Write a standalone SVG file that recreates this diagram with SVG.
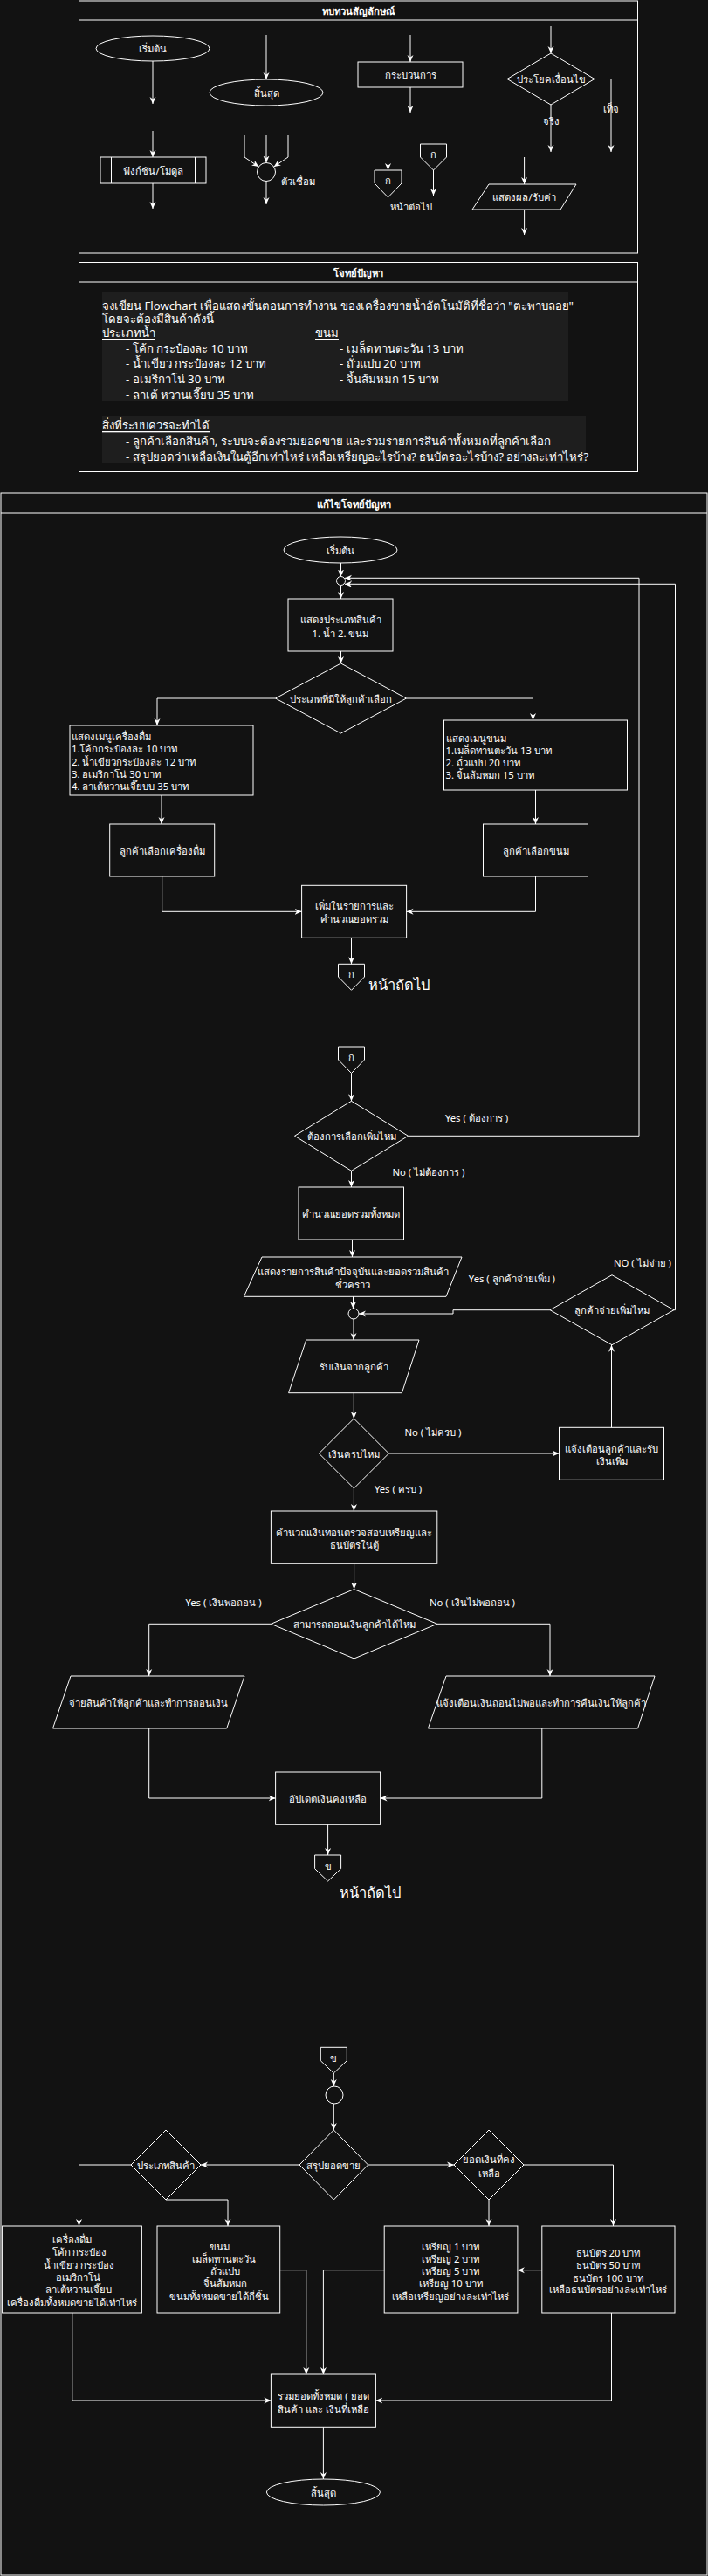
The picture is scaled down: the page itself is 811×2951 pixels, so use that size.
<svg xmlns="http://www.w3.org/2000/svg" width="811" height="2951" viewBox="0 0 811 2951">
<defs>
<marker id="a" viewBox="0 0 8 8" refX="8" refY="4" markerWidth="8" markerHeight="8" markerUnits="userSpaceOnUse" orient="auto">
<path d="M0,0.5 L8,4 L0,7.5 L2.5,4 Z" fill="#ffffff"/>
</marker>
<style>
.n{fill:#121212;stroke:#ffffff;stroke-width:1}
.e{fill:none;stroke:#ffffff;stroke-width:1;marker-end:url(#a)}
.l{fill:none;stroke:#ffffff;stroke-width:1}
.lb{fill:#1e1e1e}
text{font-family:"Noto Sans","DejaVu Sans",sans-serif;fill:#ffffff;font-size:11.3px;text-anchor:middle;dominant-baseline:central}
.b{font-weight:bold}
.s{text-anchor:start}
.p{font-size:13.2px}
.big{font-size:16.5px}
.u{text-decoration:underline}
</style>
</defs>
<rect x="0" y="0" width="811" height="2951" fill="#121212"/>

<!-- ===== Legend ===== -->
<g id="legend">
<rect class="n" x="90.5" y="1" width="640" height="289"/>
<line class="l" x1="90.5" y1="23" x2="730.5" y2="23"/>
<text class="b" x="410" y="12.5">ทบทวนสัญลักษณ์</text>
</g>
<g id="lg-start"><ellipse class="n" cx="175" cy="55.5" rx="65" ry="14.5"/><text x="175" y="55.5">เริ่มต้น</text></g>
<g id="lg-end"><ellipse class="n" cx="305" cy="106" rx="65" ry="15"/><text x="305" y="106">สิ้นสุด</text></g>
<g id="lg-process"><rect class="n" x="410" y="71" width="120" height="29"/><text x="470" y="85.5">กระบวนการ</text></g>
<g id="lg-decision"><polygon class="n" points="631,61 681,90.5 631,120 581,90.5"/><text x="631" y="90.5">ประโยคเงื่อนไข</text></g>
<g id="lg-function"><rect class="n" x="115" y="180" width="121" height="30"/><line class="l" x1="127.5" y1="180" x2="127.5" y2="210"/><line class="l" x1="223.5" y1="180" x2="223.5" y2="210"/><text x="175.5" y="195">ฟังก์ชัน/โมดูล</text></g>
<g id="lg-junction"><circle class="n" cx="305" cy="197" r="10.5"/><text x="341" y="207">ตัวเชื่อม</text></g>
<g id="lg-offpage1"><polygon class="n" points="429,195 460,195 460,210 444.5,226 429,210"/><text x="444.5" y="206">ก</text></g>
<g id="lg-offpage2"><polygon class="n" points="481.5,165 511.5,165 511.5,180 496.5,195 481.5,180"/><text x="496.5" y="176">ก</text></g>
<g id="lg-offpage-label"><text x="470.8" y="236.5">หน้าต่อไป</text></g>
<g id="lg-io"><polygon class="n" points="560,211 660,211 642,240 541,240"/><text x="600.6" y="225.5">แสดงผล/รับค่า</text></g>
<g id="lg-connectors">
<path class="e" d="M175,70 V119"/>
<path class="e" d="M305,40 V91"/>
<path class="e" d="M470,40 V71"/>
<path class="e" d="M470,100 V129"/>
<path class="e" d="M631,30 V61"/>
<path class="e" d="M631,120 V174"/>
<path class="e" d="M681,90.5 H700 V174"/>
<path class="e" d="M175,150 V180"/>
<path class="e" d="M175,210 V239"/>
<path class="e" d="M305,155 V186.5"/>
<path class="e" d="M280,155 V180 L296.3,191.1"/>
<path class="e" d="M330,155 V180 L313.7,191.1"/>
<path class="e" d="M305,207.5 V234"/>
<path class="e" d="M444.5,165 V195"/>
<path class="e" d="M496.5,195 V224"/>
<path class="e" d="M600.6,180 V211"/>
<path class="e" d="M600.6,240 V269"/>
</g>
<g id="lg-labels">
<text x="631" y="138">จริง</text>
<text x="700" y="124">เท็จ</text>
</g>

<!-- ===== Problem ===== -->
<g id="problem">
<rect class="n" x="90.5" y="300.5" width="640" height="240"/>
<line class="l" x1="90.5" y1="323" x2="730.5" y2="323"/>
<text class="b" x="410" y="312">โจทย์ปัญหา</text>
<rect class="lb" x="117" y="334" width="534" height="125"/>
<rect class="lb" x="117" y="477" width="554" height="53"/>
<text class="p s" x="117" y="350">จงเขียน Flowchart เพื่อแสดงขั้นตอนการทำงาน ของเครื่องขายน้ำอัตโนมัติที่ชื่อว่า "ตะพาบลอย"</text>
<text class="p s" x="117" y="365">โดยจะต้องมีสินค้าดังนี้</text>
<text class="p s u" x="117" y="381">ประเภทน้ำ</text>
<text class="p s u" x="361" y="381">ขนม</text>
<text class="p s" x="144" y="398.5">- โค้ก กระป๋องละ 10 บาท</text>
<text class="p s" x="144" y="416">- น้ำเขียว กระป๋องละ 12 บาท</text>
<text class="p s" x="144" y="434">- อเมริกาโน่ 30 บาท</text>
<text class="p s" x="144" y="451.5">- ลาเต้ หวานเจี๊ยบ 35 บาท</text>
<text class="p s" x="389" y="398.5">- เมล็ดทานตะวัน 13 บาท</text>
<text class="p s" x="389" y="416">- ถั่วแปบ 20 บาท</text>
<text class="p s" x="389" y="434">- จิ้นส้มหมก 15 บาท</text>
<text class="p s u" x="117" y="487">สิ่งที่ระบบควรจะทำได้</text>
<text class="p s" x="144" y="505">- ลูกค้าเลือกสินค้า, ระบบจะต้องรวมยอดขาย และรวมรายการสินค้าทั้งหมดที่ลูกค้าเลือก</text>
<text class="p s" x="144" y="523">- สรุปยอดว่าเหลือเงินในตู้อีกเท่าไหร่ เหลือเหรียญอะไรบ้าง? ธนบัตรอะไรบ้าง? อย่างละเท่าไหร่?</text>
</g>

<!-- ===== Solution ===== -->
<g id="solution">
<rect class="n" x="1" y="565" width="809" height="2385"/>
<line class="l" x1="1" y1="588" x2="810" y2="588"/>
<text class="b" x="405.5" y="577">แก้ไขโจทย์ปัญหา</text>
</g>
<g id="start"><ellipse class="n" cx="390" cy="630" rx="65" ry="15"/><text x="390" y="630">เริ่มต้น</text></g>
<g id="j1"><circle class="n" cx="390.5" cy="665.5" r="5"/></g>
<g id="show-type"><rect class="n" x="330" y="686" width="120" height="60"/><text x="390" y="709">แสดงประเภทสินค้า</text><text x="390" y="725">1. น้ำ  2. ขนม</text></g>
<g id="d-type"><polygon class="n" points="390.5,760 465.5,800 390.5,840 315.5,800"/><text x="390.5" y="800">ประเภทที่มีให้ลูกค้าเลือก</text></g>
<g id="menu-drink"><rect class="n" x="80" y="831" width="210" height="80"/>
<text class="s" x="82" y="843">แสดงเมนูเครื่องดื่ม</text>
<text class="s" x="82" y="857.5">1.โค้กกระป๋องละ 10 บาท</text>
<text class="s" x="82" y="872">2. น้ำเขียวกระป๋องละ 12 บาท</text>
<text class="s" x="82" y="886.5">3. อเมริกาโน่ 30 บาท</text>
<text class="s" x="82" y="900.5">4. ลาเต้หวานเจี๊ยบบ 35 บาท</text></g>
<g id="menu-snack"><rect class="n" x="508.5" y="825" width="210" height="80"/>
<text class="s" x="510.5" y="845">แสดงเมนูขนม</text>
<text class="s" x="510.5" y="859">1.เมล็ดทานตะวัน 13 บาท</text>
<text class="s" x="510.5" y="873.5">2. ถั่วแปบ 20 บาท</text>
<text class="s" x="510.5" y="887.5">3. จิ้นส้มหมก 15 บาท</text></g>
<g id="pick-drink"><rect class="n" x="125.7" y="944" width="120" height="60"/><text x="185.7" y="974">ลูกค้าเลือกเครื่องดื่ม</text></g>
<g id="pick-snack"><rect class="n" x="553.5" y="944" width="120" height="60"/><text x="613.5" y="974">ลูกค้าเลือกขนม</text></g>
<g id="add-list"><rect class="n" x="345.6" y="1014.3" width="120" height="60"/><text x="405.6" y="1037">เพิ่มในรายการและ</text><text x="405.6" y="1052">คำนวณยอดรวม</text></g>
<g id="off-k1"><polygon class="n" points="387.5,1104.3 417.5,1104.3 417.5,1119 402.5,1134.3 387.5,1119"/><text x="402.5" y="1115">ก</text><text class="big s" x="422" y="1127">หน้าถัดไป</text></g>
<g id="off-k2"><polygon class="n" points="387.5,1199 417.5,1199 417.5,1214 402.5,1229.5 387.5,1214"/><text x="402.5" y="1210.5">ก</text></g>
<g id="d-more"><polygon class="n" points="402.5,1261.3 467.5,1301.3 402.5,1341.3 337.5,1301.3"/><text x="402.5" y="1301.3">ต้องการเลือกเพิ่มไหม</text></g>
<g id="calc-total"><rect class="n" x="342" y="1360" width="120.5" height="60"/><text x="402.3" y="1390">คำนวณยอดรวมทั้งหมด</text></g>
<g id="show-list"><polygon class="n" points="300,1440 529,1440 511,1485.3 279.4,1485.3"/><text x="404.3" y="1456.5">แสดงรายการสินค้าปัจจุบันและยอดรวมสินค้า</text><text x="404.3" y="1471.5">ชั่วคราว</text></g>
<g id="j2"><circle class="n" cx="405" cy="1505" r="6"/></g>
<g id="d-paymore"><polygon class="n" points="701,1460.7 772,1500.7 701,1540.7 630,1500.7"/><text x="701" y="1500.7">ลูกค้าจ่ายเพิ่มไหม</text></g>
<g id="receive"><polygon class="n" points="350.7,1535 480,1535 460.4,1595.7 330.6,1595.7"/><text x="405.3" y="1565">รับเงินจากลูกค้า</text></g>
<g id="d-enough"><polygon class="n" points="405.4,1625 445.4,1665 405.4,1705 365.4,1665"/><text x="405.4" y="1665">เงินครบไหม</text></g>
<g id="notify-more"><rect class="n" x="640.5" y="1635.3" width="120" height="60"/><text x="700.5" y="1659">แจ้งเตือนลูกค้าและรับ</text><text x="700.5" y="1673.5">เงินเพิ่ม</text></g>
<g id="calc-change"><rect class="n" x="310.4" y="1731" width="190.4" height="60.3"/><text x="405.6" y="1755">คำนวณเงินทอนตรวจสอบเหรียญและ</text><text x="405.6" y="1769.5">ธนบัตรในตู้</text></g>
<g id="d-withdraw"><polygon class="n" points="405.6,1820.6 500.8,1860.3 405.6,1900 310.4,1860.3"/><text x="405.6" y="1860.3">สามารถถอนเงินลูกค้าได้ไหม</text></g>
<g id="give-goods"><polygon class="n" points="81,1920 280,1920 259.7,1980 60.5,1980"/><text x="170.3" y="1950">จ่ายสินค้าให้ลูกค้าและทำการถอนเงิน</text></g>
<g id="refund"><polygon class="n" points="511,1920 750,1920 730.5,1980 490.4,1980"/><text x="620.2" y="1950">แจ้งเตือนเงินถอนไม่พอและทำการคืนเงินให้ลูกค้า</text></g>
<g id="update-balance"><rect class="n" x="315.6" y="2030" width="120" height="60.3"/><text x="375.6" y="2060">อัปเดตเงินคงเหลือ</text></g>
<g id="off-kh1"><polygon class="n" points="360.6,2125 390.6,2125 390.6,2140.7 375.6,2155 360.6,2140.7"/><text x="375.6" y="2137">ข</text><text class="big s" x="389" y="2167">หน้าถัดไป</text></g>
<g id="off-kh2"><polygon class="n" points="367.3,2345.3 397.3,2345.3 397.3,2360.7 382.3,2375 367.3,2360.7"/><text x="382.3" y="2357">ข</text></g>
<g id="j3"><circle class="n" cx="383" cy="2400" r="10"/></g>
<g id="d-summary"><polygon class="n" points="382.3,2440 421.6,2480 382.3,2520 343,2480"/><text x="382.3" y="2480">สรุปยอดขาย</text></g>
<g id="d-product"><polygon class="n" points="190,2440 230,2480 190,2520 150,2480"/><text x="190" y="2480">ประเภทสินค้า</text></g>
<g id="d-remain"><polygon class="n" points="560,2440 600,2480 560,2520 520,2480"/><text x="560" y="2473.5">ยอดเงินที่คง</text><text x="560" y="2489">เหลือ</text></g>
<g id="sum-drink"><rect class="n" x="2.6" y="2550" width="159.8" height="100"/>
<text x="82.5" y="2565">เครื่องดื่ม</text>
<text x="91" y="2579.5">โค้ก กระป๋อง</text>
<text x="90.5" y="2594">น้ำเขียว กระป๋อง</text>
<text x="89" y="2608.5">อเมริกาโน่</text>
<text x="90" y="2622.5">ลาเต้หวานเจี๊ยบ</text>
<text x="82.5" y="2637">เครื่องดื่มทั้งหมดขายได้เท่าไหร่</text></g>
<g id="sum-snack"><rect class="n" x="180" y="2550" width="140.7" height="100"/>
<text x="251" y="2573.5">ขนม</text>
<text x="256.5" y="2587">เมล็ดทานตะวัน</text>
<text x="258" y="2601">ถั่วแปบ</text>
<text x="257.5" y="2615">จิ้นส้มหมก</text>
<text x="250.5" y="2630">ขนมทั้งหมดขายได้กี่ชิ้น</text></g>
<g id="sum-coins"><rect class="n" x="440.2" y="2550" width="152.7" height="100"/>
<text x="516.3" y="2573.5">เหรียญ 1 บาท</text>
<text x="516.3" y="2587.5">เหรียญ 2 บาท</text>
<text x="516.3" y="2601.5">เหรียญ 5 บาท</text>
<text x="516.3" y="2615.5">เหรียญ 10 บาท</text>
<text x="516.3" y="2630">เหลือเหรียญอย่างละเท่าไหร่</text></g>
<g id="sum-notes"><rect class="n" x="620.8" y="2550" width="152.2" height="100"/>
<text x="696.5" y="2580">ธนบัตร 20 บาท</text>
<text x="696.5" y="2594">ธนบัตร 50 บาท</text>
<text x="696.5" y="2609">ธนบัตร 100 บาท</text>
<text x="696.5" y="2622.5">เหลือธนบัตรอย่างละเท่าไหร่</text></g>
<g id="grand-total"><rect class="n" x="310.4" y="2720" width="120" height="60.3"/><text x="370.4" y="2744.3">รวมยอดทั้งหมด ( ยอด</text><text x="370.4" y="2759.3">สินค้า และ เงินที่เหลือ</text></g>
<g id="end"><ellipse class="n" cx="370.4" cy="2855" rx="65" ry="15"/><text x="370.4" y="2855">สิ้นสุด</text></g>

<g id="connectors">
<path class="e" d="M390.5,645 V660.5"/>
<path class="e" d="M390.5,670.5 V686"/>
<path class="e" d="M390.5,746 V760"/>
<path class="e" d="M315.5,800 H180 V831"/>
<path class="e" d="M465.5,800 H610.5 V825"/>
<path class="e" d="M185,911 V944"/>
<path class="e" d="M613.5,905 V944"/>
<path class="e" d="M185.7,1004 V1044.3 H345.6"/>
<path class="e" d="M613.5,1004 V1044.3 H465.6"/>
<path class="e" d="M402.5,1074.3 V1104.3"/>
<path class="e" d="M402.5,1229.5 V1261.3"/>
<path class="e" d="M467.5,1301.3 H732 V662.3 H395"/>
<path class="e" d="M402.5,1341.3 V1360"/>
<path class="e" d="M403.5,1420 V1440"/>
<path class="e" d="M404.5,1485.3 V1499"/>
<path class="e" d="M630,1500.7 H519 V1505 H411"/>
<path class="e" d="M772,1500.7 H773.5 V669.3 H395"/>
<path class="e" d="M405,1511 V1535"/>
<path class="e" d="M405.3,1595.7 V1625"/>
<path class="e" d="M445.4,1665 H640.5"/>
<path class="e" d="M700.5,1635.3 V1540.7"/>
<path class="e" d="M405.4,1705 V1731"/>
<path class="e" d="M405.6,1791.3 V1820.6"/>
<path class="e" d="M310.4,1860.3 H170.7 V1920"/>
<path class="e" d="M500.8,1860.3 H630 V1920"/>
<path class="e" d="M170.7,1980 V2060 H315.6"/>
<path class="e" d="M620.8,1980 V2060 H435.6"/>
<path class="e" d="M375.6,2090.3 V2125"/>
<path class="e" d="M382.3,2375 V2390"/>
<path class="e" d="M382.3,2410 V2440"/>
<path class="e" d="M343,2480 H230"/>
<path class="e" d="M421.6,2480 H520"/>
<path class="e" d="M150,2480 H90.5 V2550"/>
<path class="e" d="M190,2520 H261 V2550"/>
<path class="e" d="M560,2520 V2550"/>
<path class="e" d="M600,2480 H702.5 V2550"/>
<path class="e" d="M620.8,2600.7 H592.9"/>
<path class="e" d="M320.7,2600.7 H350.8 V2720"/>
<path class="e" d="M440.2,2600.7 H370.4 V2720"/>
<path class="e" d="M82.8,2650 V2750 H310.4"/>
<path class="e" d="M700.5,2650 V2750 H430.4"/>
<path class="e" d="M370.4,2780.3 V2840"/>
</g>
<g id="edge-labels">
<text x="546" y="1280.7">Yes ( ต้องการ )</text>
<text x="491" y="1342.7">No ( ไม่ต้องการ )</text>
<text x="586.4" y="1464">Yes ( ลูกค้าจ่ายเพิ่ม )</text>
<text x="736" y="1446">NO ( ไม่จ่าย )</text>
<text x="496" y="1640.7">No ( ไม่ครบ )</text>
<text x="456" y="1705.7">Yes ( ครบ )</text>
<text x="256" y="1835.7">Yes ( เงินพอถอน )</text>
<text x="541" y="1835.7">No ( เงินไม่พอถอน )</text>
</g>
</svg>
